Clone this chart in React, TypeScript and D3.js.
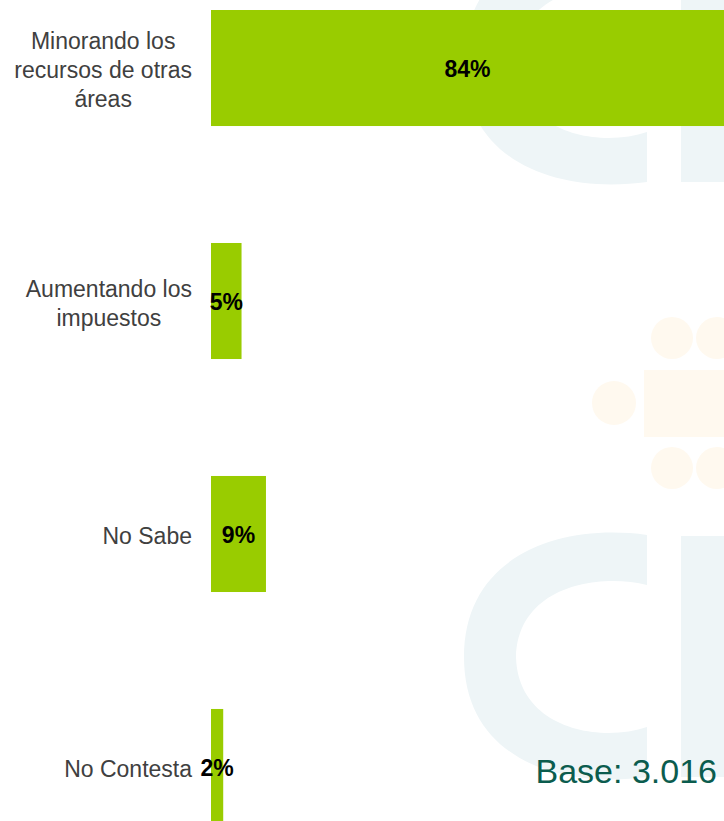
import React, { useRef, useEffect } from 'react';
import * as d3 from 'd3';

const categories = [
  'Minorando los recursos de otras áreas',
  'Aumentando los impuestos',
  'No Sabe',
  'No Contesta',
];
const categoryLines = [
  ['Minorando los', 'recursos de otras', 'áreas'],
  ['Aumentando los', 'impuestos'],
  ['No Sabe'],
  ['No Contesta'],
];
const values = [84, 5, 9, 2];
const baseLabel = 'Base: 3.016';

const width = 724;
const height = 821;

// faint CIS logo in the background
const Watermark = () => {
  const blue = '#eef5f7';
  const orange = '#fff9ef';
  const cPath = (cy: number) =>
    `M647,${cy - 122} L647,${cy - 72} C600,${cy - 84} 518,${cy - 72} 516,${cy}
      C518,${cy + 72} 600,${cy + 86} 647,${cy + 70} L647,${cy + 120}
      C560,${cy + 132} 464,${cy + 102} 464,${cy} C464,${cy - 102} 560,${cy - 134} 647,${cy - 122} Z`;
  return (
    <g>
      <path d={cPath(62)} fill={blue} />
      <rect x={681} y={0} width={43} height={182} fill={blue} />
      <path d={cPath(657)} fill={blue} />
      <rect x={681} y={536} width={43} height={241} fill={blue} />
      <circle cx={672} cy={338} r={21} fill={orange} />
      <circle cx={717} cy={338} r={21} fill={orange} />
      <circle cx={614} cy={403} r={22} fill={orange} />
      <rect x={644} y={370} width={80} height={67} fill={orange} />
      <circle cx={672} cy={468} r={21} fill={orange} />
      <circle cx={717} cy={468} r={21} fill={orange} />
    </g>
  );
};

const App = () => {
  const gRef = useRef<SVGGElement>(null);

  const x = d3.scaleLinear().domain([0, 84]).range([211, 724]);
  const y = d3
    .scaleBand()
    .domain(categories)
    .range([10, 825])
    .paddingInner(0.502)
    .paddingOuter(0);

  useEffect(() => {
    const g = d3.select(gRef.current);
    g.selectAll('*').remove();
    const lineH = 29;
    categories.forEach((c, i) => {
      const lines = categoryLines[i];
      const cy = (y(c) as number) + y.bandwidth() / 2 + 2;
      const t = g
        .append('text')
        .attr('font-family', 'Liberation Sans, Arial, sans-serif')
        .attr('font-size', 23)
        .attr('fill', '#404040')
        .attr('text-anchor', 'middle');
      lines.forEach((l, j) => {
        t.append('tspan')
          .attr('x', 0)
          .attr('y', cy + (j - (lines.length - 1) / 2) * lineH)
          .attr('dy', '0.35em')
          .text(l);
      });
      let maxW = 0;
      t.selectAll<SVGTSpanElement, unknown>('tspan').each(function () {
        maxW = Math.max(maxW, this.getComputedTextLength());
      });
      t.selectAll('tspan').attr('x', 192 - maxW / 2);
    });
  }, []);

  return (
    <svg
      width={width}
      height={height}
      style={{ position: 'absolute', left: 0, top: 0, background: '#fff' }}
    >
      <Watermark />
      {categories.map((c, i) => (
        <rect
          key={c}
          x={x(0)}
          y={y(c)}
          width={x(values[i]) - x(0)}
          height={y.bandwidth()}
          fill="#99cc00"
        />
      ))}
      {categories.map((c, i) => (
        <text
          key={c + '-v'}
          x={(x(0) + x(values[i])) / 2}
          y={(y(c) as number) + y.bandwidth() / 2 + 1}
          dy="0.35em"
          textAnchor="middle"
          fontFamily="Liberation Sans, Arial, sans-serif"
          fontWeight="bold"
          fontSize={23}
          fill="#000"
        >
          {values[i]}%
        </text>
      ))}
      <g ref={gRef} />
      <text
        x={717}
        y={771}
        dy="0.35em"
        textAnchor="end"
        fontFamily="Liberation Sans, Arial, sans-serif"
        fontSize={34}
        fill="#0b5c4e"
      >
        {baseLabel}
      </text>
    </svg>
  );
};

export default App;
